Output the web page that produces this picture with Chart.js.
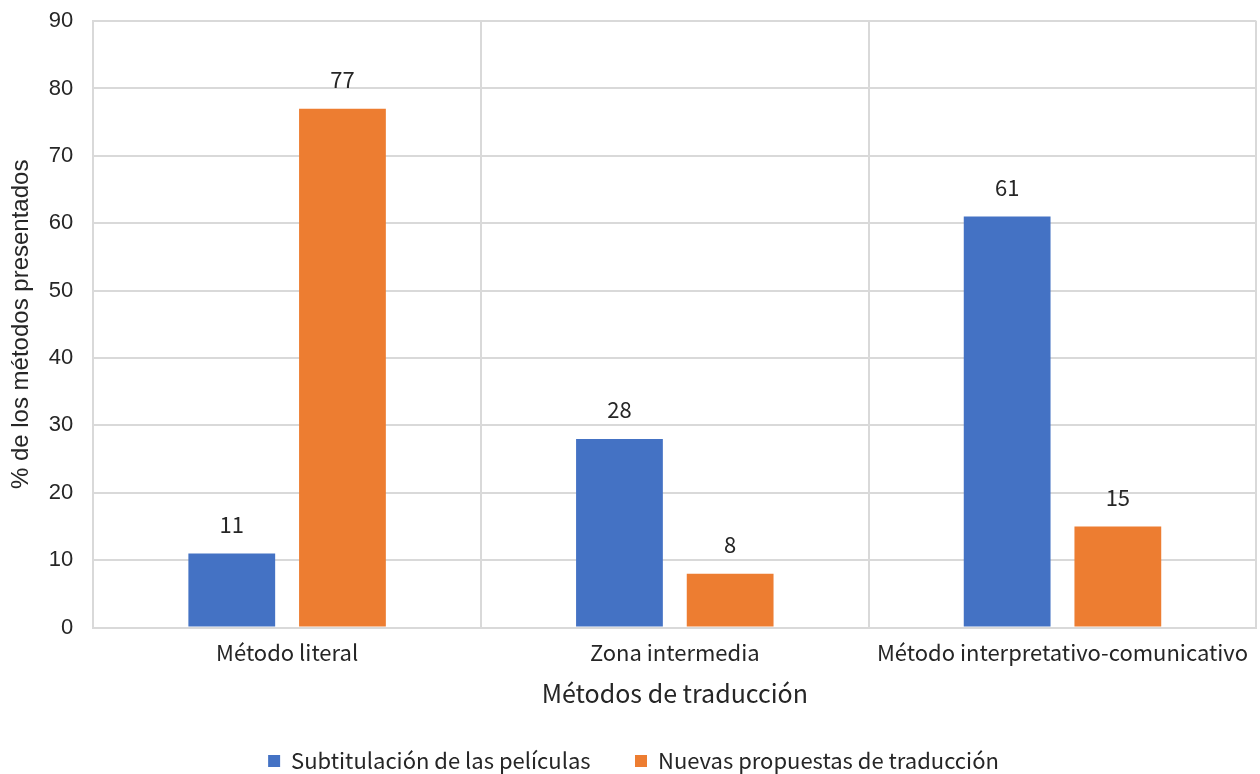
<!DOCTYPE html>
<html>
<head>
<meta charset="utf-8">
<script src="https://cdn.jsdelivr.net/npm/chart.js@4.4.1/dist/chart.umd.min.js"></script>
<style>
  html, body { margin: 0; padding: 0; background: #fff; }
  #wrap { width: 1260px; height: 774px; }
</style>
</head>
<body>
<div id="wrap"><canvas id="metodosChart" width="1260" height="774"></canvas></div>
<script>
// Data
const categorias = ['Método literal', 'Zona intermedia', 'Método interpretativo-comunicativo'];
const subtitulacion = [11, 28, 61];
const nuevasPropuestas = [77, 8, 15];
const yTicks = [0, 10, 20, 30, 40, 50, 60, 70, 80, 90];

const labelFont = '"Noto Sans CJK SC", "Noto Sans", sans-serif';
const tickFont = '"Liberation Sans", Arial, sans-serif';
const gridColor = '#d9d9d9';
const textColor = '#262626';

// Value labels above each bar
const barValues = {
  id: 'barValues',
  afterDatasetsDraw(chart) {
    const ctx = chart.ctx;
    ctx.save();
    ctx.font = '22px ' + labelFont;
    ctx.fillStyle = textColor;
    ctx.textAlign = 'center';
    ctx.textBaseline = 'middle';
    chart.data.datasets.forEach((ds, i) => {
      chart.getDatasetMeta(i).data.forEach((bar, j) => {
        ctx.fillText(ds.data[j], bar.x, bar.y - 29);
      });
    });
    ctx.restore();
  }
};

const ctx = document.getElementById('metodosChart').getContext('2d');

new Chart(ctx, {
  type: 'bar',
  data: {
    labels: categorias,
    datasets: [
      {
        label: 'Subtitulación de las películas',
        data: subtitulacion,
        backgroundColor: '#4472c4',
        barPercentage: 0.784,
        categoryPercentage: 0.571
      },
      {
        label: 'Nuevas propuestas de traducción',
        data: nuevasPropuestas,
        backgroundColor: '#ed7d31',
        barPercentage: 0.784,
        categoryPercentage: 0.571
      }
    ]
  },
  options: {
    responsive: false,
    animation: false,
    layout: { padding: { top: 0, right: 0, bottom: -8, left: 7 } },
    scales: {
      x: {
        grid: { color: gridColor, lineWidth: 2, offset: true, drawTicks: false },
        border: { color: gridColor, width: 2 },
        ticks: { color: textColor, font: { family: labelFont, size: 22 }, padding: 12, maxRotation: 0 },
        title: {
          display: true,
          text: 'Métodos de traducción',
          color: textColor,
          font: { family: labelFont, size: 25 },
          padding: { top: 0, bottom: 37 }
        }
      },
      y: {
        min: 0,
        max: 90,
        afterBuildTicks(axis) { axis.ticks = yTicks.map(v => ({ value: v })); },
        grid: { color: gridColor, lineWidth: 2, drawTicks: false },
        border: { color: gridColor, width: 2 },
        // small lineHeight keeps the top tick label from adding extra space above the plot
        ticks: { color: textColor, font: { family: tickFont, size: 22, lineHeight: 0.1 }, padding: 20 },
        title: {
          display: true,
          text: '% de los métodos presentados',
          color: textColor,
          font: { family: tickFont, size: 24 },
          padding: { top: 0, bottom: -7 }
        }
      }
    },
    plugins: {
      legend: {
        position: 'bottom',
        labels: {
          color: textColor,
          font: { family: labelFont, size: 22 },
          boxWidth: 12,
          boxHeight: 12,
          padding: 5,
          // extra room after the first entry
          generateLabels(chart) {
            const items = Chart.defaults.plugins.legend.labels.generateLabels(chart);
            items[0].text += '        ';
            return items;
          }
        }
      },
      tooltip: { enabled: false }
    }
  },
  plugins: [barValues]
});
</script>
</body>
</html>
